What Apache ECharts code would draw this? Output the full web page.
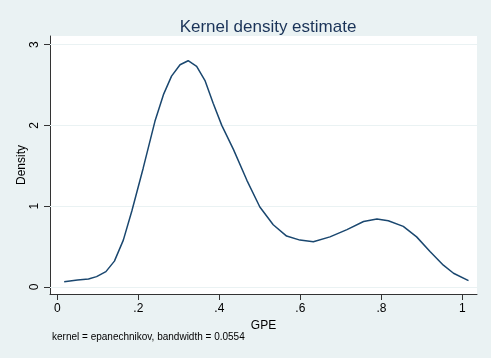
<!DOCTYPE html>
<html>
<head>
<meta charset="utf-8">
<script src="https://cdn.jsdelivr.net/npm/echarts@6/dist/echarts.min.js"></script>
<style>
  html, body { margin: 0; padding: 0; background: #eaf2f3; }
  #chart { width: 491px; height: 358px; }
</style>
</head>
<body>
<div id="chart"></div>
<script>
// kernel density points
const gpe = [0.017, 0.05, 0.077, 0.097, 0.12, 0.141, 0.163, 0.184, 0.212, 0.241, 0.262, 0.282,
  0.303, 0.323, 0.344, 0.365, 0.385, 0.406, 0.435, 0.468, 0.5, 0.533, 0.566, 0.599, 0.632,
  0.673, 0.715, 0.756, 0.789, 0.817, 0.854, 0.887, 0.92, 0.953, 0.978, 1.015];
const density = [0.066, 0.085, 0.099, 0.128, 0.19, 0.32, 0.58, 0.94, 1.47, 2.05, 2.38, 2.61,
  2.75, 2.8, 2.73, 2.55, 2.27, 2.0, 1.7, 1.32, 0.99, 0.77, 0.63, 0.58, 0.56,
  0.62, 0.71, 0.81, 0.84, 0.82, 0.75, 0.62, 0.44, 0.27, 0.17, 0.078];
const xTicks = [0, 0.2, 0.4, 0.6, 0.8, 1];
const yTicks = [0, 1, 2, 3];

const chart = echarts.init(document.getElementById('chart'));
const font = 'Liberation Sans, Arial, sans-serif';

chart.setOption({
  backgroundColor: '#eaf2f3',
  animation: false,
  title: {
    text: 'Kernel density estimate',
    left: 263,
    top: 14,
    textAlign: 'center',
    textStyle: { color: '#1a3358', fontSize: 17, fontWeight: 'normal', fontFamily: font },
  },
  graphic: [{
    type: 'text',
    left: 52,
    top: 332,
    style: {
      text: 'kernel = epanechnikov, bandwidth = 0.0554',
      fill: '#000',
      font: '10px ' + font,
    },
  }],
  grid: { left: 50, right: 14, top: 36, bottom: 64, show: true, backgroundColor: '#fff', borderWidth: 0 },
  xAxis: {
    type: 'value',
    min: -0.018,
    max: 1.036,
    name: 'GPE',
    nameLocation: 'middle',
    nameGap: 18,
    nameTextStyle: { color: '#000', fontSize: 12, fontFamily: font },
    axisLine: { show: true, onZero: false, lineStyle: { color: '#333', width: 1 } },
    axisTick: { show: true, length: 6, customValues: xTicks, lineStyle: { color: '#333' } },
    axisLabel: {
      customValues: xTicks,
      margin: 9,
      color: '#000',
      fontSize: 12,
      fontFamily: font,
      formatter: (v) => (v === 0 || v === 1 ? String(v) : String(v).replace(/^0/, '')),
    },
    splitLine: { show: false },
  },
  yAxis: {
    type: 'value',
    min: -0.087,
    max: 3.106,
    name: 'Density',
    nameLocation: 'middle',
    nameRotate: 90,
    nameGap: 22,
    nameMoveOverlap: false,
    nameTextStyle: { color: '#000', fontSize: 12, fontFamily: font },
    axisLine: { show: true, onZero: false, lineStyle: { color: '#333', width: 1 } },
    axisTick: { show: true, length: 6, customValues: yTicks, lineStyle: { color: '#333' } },
    axisLabel: {
      customValues: yTicks,
      rotate: 90,
      margin: 9,
      color: '#000',
      fontSize: 12,
      fontFamily: font,
    },
    splitLine: { show: false },
  },
  series: [{
    // grid lines, kept under the curve
    type: 'line',
    data: [],
    z: 1,
    markLine: {
      z: 1,
      silent: true,
      symbol: 'none',
      label: { show: false },
      lineStyle: { color: '#eaf2f3', width: 1, type: 'solid' },
      data: yTicks.map((v) => ({ yAxis: v })),
    },
  }, {
    type: 'line',
    data: gpe.map((x, i) => [x, density[i]]),
    showSymbol: false,
    smooth: false,
    lineStyle: { color: '#1a476f', width: 1.5 },
    z: 3,
  }],
});
</script>
</body>
</html>
